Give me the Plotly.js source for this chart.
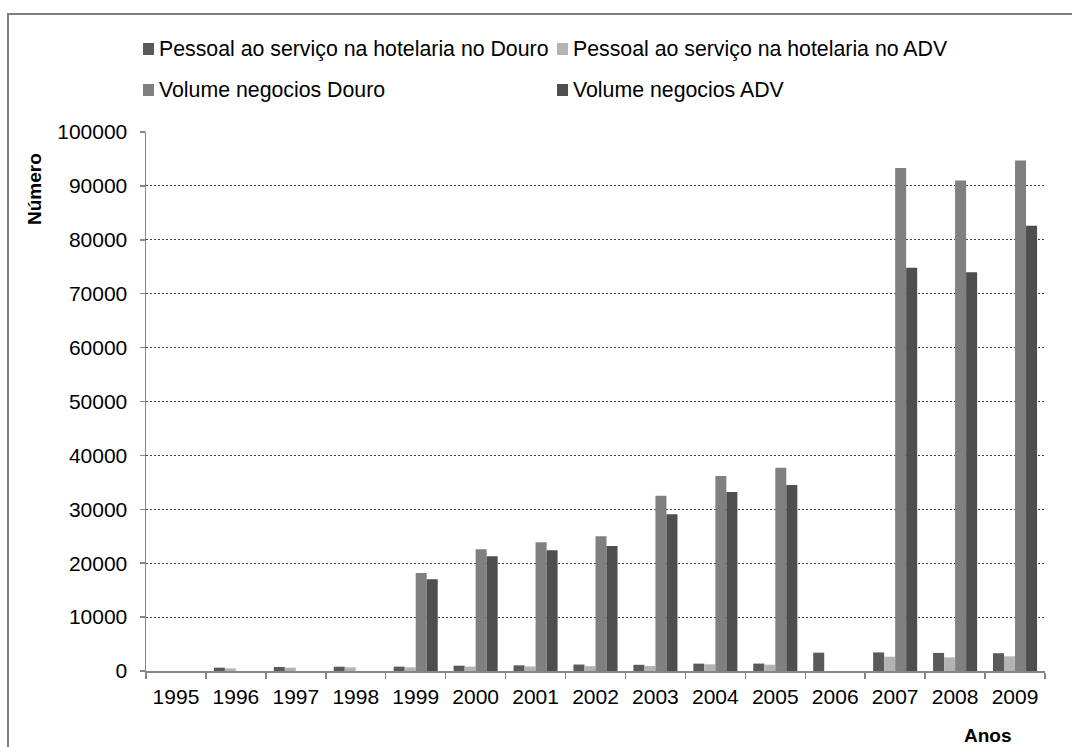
<!DOCTYPE html>
<html>
<head>
<meta charset="utf-8">
<script src="https://cdn.plot.ly/plotly-3.0.1.min.js"></script>
<style>
html,body{margin:0;padding:0;overflow:hidden;background:#fff;}
#chart{position:absolute;left:0;top:0;width:1072px;height:747px;}
#frame{position:absolute;left:7px;top:13px;width:1090px;height:800px;border:2px solid #7f7f7f;pointer-events:none;}
</style>
</head>
<body>
<div id="chart"></div>
<div id="frame"></div>
<script>
const years = ['1995','1996','1997','1998','1999','2000','2001','2002','2003','2004','2005','2006','2007','2008','2009'];
const seriesNames = [
  'Pessoal ao serviço na hotelaria no Douro',
  'Pessoal ao serviço na hotelaria no ADV',
  'Volume negocios Douro',
  'Volume negocios ADV'
];
const pessoalDouro = [0, 620, 740, 800, 810, 990, 1050, 1200, 1150, 1370, 1380, 3400, 3450, 3350, 3300];
const pessoalADV   = [0, 480, 610, 670, 670, 800, 850, 900, 930, 1240, 1170, 0, 2650, 2540, 2720];
const volumeDouro  = [null, null, null, null, 18200, 22600, 23900, 25000, 32500, 36200, 37700, null, 93300, 91000, 94700];
const volumeADV    = [null, null, null, null, 17000, 21300, 22400, 23200, 29100, 33200, 34500, null, 74800, 74000, 82600];
const seriesColors = ['#5a5a5a', '#b3b3b3', '#808080', '#4e4e4e'];
const yTicks = [0,10000,20000,30000,40000,50000,60000,70000,80000,90000,100000];

const values = [pessoalDouro, pessoalADV, volumeDouro, volumeADV];
const traces = values.map((v, i) => ({
  type: 'bar', x: years, y: v, name: seriesNames[i],
  marker: {color: seriesColors[i], line: {width: 0}},
  showlegend: false, hoverinfo: 'x+y+name'
}));

// plot area geometry (pixels)
const W = 1072, H = 747, L = 146, R = 27, T = 132, B = 76;
const pw = W - L - R, ph = H - T - B;
const px = x => (x - L) / pw;
const py = y => (H - B - y) / ph;

// manual legend (Excel style: small squares, two rows)
const legPos = [[143, 49], [557, 49], [143, 90], [557, 90]];
const shapes = [];
const annotations = [];
seriesNames.forEach((n, i) => {
  const [lx, ly] = legPos[i];
  shapes.push({type:'rect', xref:'paper', yref:'paper',
    x0: px(lx), x1: px(lx + 11), y0: py(ly + 6), y1: py(ly - 6),
    fillcolor: seriesColors[i], line:{width:0}});
  annotations.push({xref:'paper', yref:'paper', x: px(lx + 14), y: py(ly),
    xanchor:'left', yanchor:'middle', showarrow:false, text: n,
    font:{family:'Liberation Sans, Arial, sans-serif', size:21.3, color:'#000'}});
});
annotations.push({xref:'paper', yref:'paper', x: px(35), y: py(189), textangle:-90,
  xanchor:'center', yanchor:'middle', showarrow:false, text:'<b>Número</b>',
  font:{family:'Liberation Sans, Arial, sans-serif', size:19, color:'#000'}});
annotations.push({xref:'paper', yref:'paper', x: px(988), y: py(735),
  xanchor:'center', yanchor:'middle', showarrow:false, text:'<b>Anos</b>',
  font:{family:'Liberation Sans, Arial, sans-serif', size:19, color:'#000'}});

const layout = {
  width: W, height: H,
  margin: {l: L, r: R, t: T, b: B, pad: 0},
  paper_bgcolor: 'rgba(0,0,0,0)', plot_bgcolor: '#fff',
  barmode: 'group', bargap: 0.265, bargroupgap: 0,
  showlegend: false,
  font: {family: 'Liberation Sans, Arial, sans-serif', size: 21, color: '#000'},
  xaxis: {
    type: 'category', showline: true, linecolor: '#868686', linewidth: 1.5,
    ticks: 'outside', tickson: 'boundaries', ticklen: 6, tickcolor: '#868686', tickwidth: 1.5,
    ticklabelstandoff: 6,
    showgrid: false, zeroline: false, tickfont: {size: 21}, automargin: false
  },
  yaxis: {
    range: [0, 100000], tickvals: yTicks, ticktext: yTicks.map(String),
    showline: true, linecolor: '#868686', linewidth: 1.5,
    ticks: 'outside', ticklen: 5, tickcolor: '#868686', tickwidth: 1.5,
    ticklabelstandoff: 8,
    showgrid: true, gridcolor: '#444', gridwidth: 1, griddash: '2px,2px',
    zeroline: false, tickfont: {size: 21}, automargin: false
  },
  shapes: shapes, annotations: annotations
};

Plotly.newPlot('chart', traces, layout, {displayModeBar: false, staticPlot: true});
</script>
</body>
</html>
